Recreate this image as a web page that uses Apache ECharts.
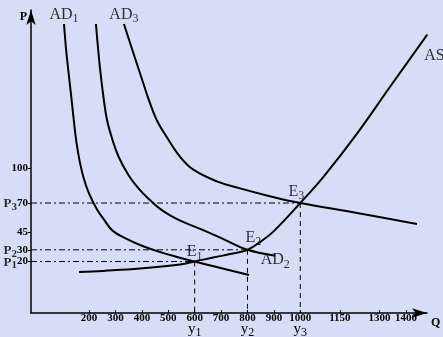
<!DOCTYPE html>
<html>
<head>
<meta charset="utf-8">
<script src="https://cdn.jsdelivr.net/npm/echarts@6/dist/echarts.min.js"></script>
<style>
html, body { margin: 0; padding: 0; background: #d6def7; }
#main { width: 443px; height: 337px; }
</style>
</head>
<body>
<div id="main"></div>
<script>
// tick labels
var xTicks = [200, 300, 400, 500, 600, 700, 800, 900, 1000, 1150, 1300, 1400];
var yTicks = [20, 30, 45, 70, 100];

// equilibrium points E1, E2, E3
var eqQ = [600, 800, 1000];
var eqP = [20, 30, 70];

// curves [Q, P]
var ad1 = [[105, 223], [113, 201], [123, 180], [133, 160], [142, 141], [152, 122], [165, 105], [180, 91], [200, 78], [229, 65], [256, 56], [291, 46], [350, 38.5], [400, 33.5], [470, 28], [540, 23.5], [600, 20], [680, 15.5], [806, 8.5]];
var ad2 = [[226, 223], [241, 186], [256, 158], [268, 141], [286, 126], [311, 110], [349, 94], [393, 81], [431, 72.5], [469, 65], [507, 59.5], [545, 55], [630, 47], [715, 38.5], [800, 30], [905, 25]];
var ad3 = [[332, 223], [368, 198], [406, 172], [425, 159], [456, 141], [494, 126.5], [545, 109.5], [595, 98.5], [684, 88.5], [772, 82.5], [873, 76.5], [1000, 70], [1215, 61.5], [1442, 52]];
var as = [[162, 11], [253, 12], [393, 14], [545, 17.5], [600, 20], [670, 23.5], [750, 27], [800, 30], [850, 37], [900, 46], [1000, 70], [1090, 93], [1217, 130], [1342, 170], [1481, 214]];

var xMin = -20, yMin = -24;
var serif = 'Liberation Serif';

var subRich = {
    m: { fontFamily: serif, fontSize: 16, color: '#000' },
    s: { fontFamily: serif, fontSize: 12, color: '#000', padding: [9, 0, 0, 0] }
};
var boldRich = {
    m: { fontFamily: serif, fontWeight: 'bold', fontSize: 13, color: '#000' },
    s: { fontFamily: serif, fontWeight: 'bold', fontSize: 11, color: '#000', padding: [6, 0, 0, 0] }
};

function curve(name, data) {
    return {
        name: name,
        type: 'line',
        data: data,
        smooth: 0.4,
        showSymbol: false,
        clip: false,
        silent: true,
        lineStyle: { color: '#000', width: 2 }
    };
}

// 文字标注
function tag(point, main, sub, position, offset, distance, rich) {
    return {
        type: 'scatter',
        data: [point],
        symbolSize: 0,
        silent: true,
        clip: false,
        label: {
            show: true,
            position: position,
            distance: distance == null ? 1 : distance,
            offset: offset || [0, 0],
            formatter: '{m|' + main + '}{s|' + sub + '}',
            rich: rich || subRich
        }
    };
}

var series = [
    curve('AD1', ad1),
    curve('AD2', ad2),
    curve('AD3', ad3),
    curve('AS', as)
];

// 虚线
eqQ.forEach(function(q, i) {
    series.push({
        type: 'line',
        data: [[xMin, eqP[i]], [q, eqP[i]]],
        showSymbol: false,
        silent: true,
        lineStyle: { color: '#000', width: 1, type: [6, 3, 2, 3] }
    });
    series.push({
        type: 'line',
        data: [[q, eqP[i]], [q, yMin]],
        showSymbol: false,
        silent: true,
        lineStyle: { color: '#000', width: 1, type: [5, 4] }
    });
    // P1 P2 P3
    series.push(tag([xMin, eqP[i]], 'P', i + 1, 'left', [0, 1], 14, boldRich));
});

series.push(tag(ad1[0], 'AD', '1', 'top', [0, 2]));
series.push(tag(ad3[0], 'AD', '3', 'top', [0, 2]));
series.push(tag(ad2[ad2.length - 1], 'AD', '2', 'bottom', [0, -7]));
series.push(tag(as[as.length - 1], 'AS', '', 'right', [-4, 21]));
series.push(tag([eqQ[0], eqP[0]], 'E', '1', 'top', [0, 2]));
series.push(tag([eqQ[1], eqP[1]], 'E', '2', 'top', [6, -1]));
series.push(tag([eqQ[2], eqP[2]], 'E', '3', 'top', [-4, 0]));

var option = {
    backgroundColor: '#d6def7',
    animation: false,
    grid: { left: 31, top: 10, width: 396, height: 303, outerBoundsMode: 'none', containLabel: false },
    xAxis: {
        type: 'value',
        min: xMin,
        max: 1480,
        name: 'Q',
        nameLocation: 'end',
        nameGap: 4,
        nameTextStyle: { fontFamily: serif, fontWeight: 'bold', fontSize: 12, color: '#000', verticalAlign: 'top', padding: [4, 0, 0, 0] },
        splitLine: { show: false },
        axisLine: { onZero: false, symbol: ['none', 'arrow'], symbolSize: [7, 15], lineStyle: { color: '#000', width: 1.5 } },
        axisTick: { inside: true, length: 3, customValues: xTicks, lineStyle: { color: '#000' } },
        axisLabel: {
            customValues: xTicks,
            margin: 2,
            hideOverlap: false,
            color: '#000',
            formatter: function(v) {
                var i = eqQ.indexOf(v);
                var t = '{n|' + v + '}';
                if (i >= 0) t += '\n{y|y}{ys|' + (i + 1) + '}';
                return t;
            },
            rich: {
                n: { fontFamily: serif, fontWeight: 'bold', fontSize: 11, color: '#000', lineHeight: 7 },
                y: { fontFamily: serif, fontSize: 15, color: '#000', lineHeight: 8, verticalAlign: 'top' },
                ys: { fontFamily: serif, fontSize: 12, color: '#000', lineHeight: 8, padding: [5, 0, 0, 0], verticalAlign: 'top' }
            }
        }
    },
    yAxis: {
        type: 'value',
        min: yMin,
        max: 235,
        name: 'P',
        nameLocation: 'end',
        nameGap: -13,
        nameTextStyle: { fontFamily: serif, fontWeight: 'bold', fontSize: 12, color: '#000', align: 'right', padding: [0, 4, 0, 0] },
        splitLine: { show: false },
        axisLine: { onZero: false, symbol: ['none', 'arrow'], symbolSize: [7, 15], lineStyle: { color: '#000', width: 1.5 } },
        axisTick: { length: 3, customValues: yTicks, lineStyle: { color: '#000' } },
        axisLabel: {
            customValues: yTicks,
            margin: 3,
            hideOverlap: false,
            color: '#000',
            fontFamily: serif,
            fontWeight: 'bold',
            fontSize: 11
        }
    },
    series: series
};

var chart = echarts.init(document.getElementById('main'));
chart.setOption(option);
</script>
</body>
</html>
